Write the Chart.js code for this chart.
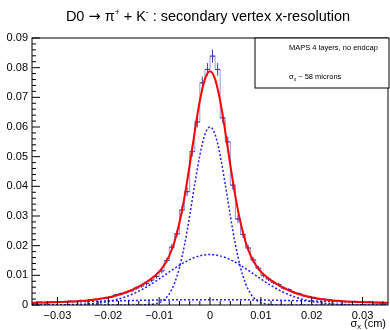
<!DOCTYPE html>
<html><head><meta charset="utf-8">
<script src="https://cdn.jsdelivr.net/npm/chart.js@4.4.1/dist/chart.umd.min.js"></script>
<style>html,body{margin:0;padding:0;background:#fff;}canvas{display:block;}</style>
</head><body>
<canvas id="c" width="390" height="330"></canvas>
<script>
// ---------- data ----------
const X_MIN = -0.035, X_MAX = 0.035, BIN_WIDTH = 0.001, CURVE_STEP = 0.001;
const Y_MIN = 0, Y_MAX = 0.09;
const xTicks = [-0.03, -0.02, -0.01, 0, 0.01, 0.02, 0.03];
const xTickLabels = ['\u22120.03', '\u22120.02', '\u22120.01', '0', '0.01', '0.02', '0.03'];
const yTicks = [0, 0.01, 0.02, 0.03, 0.04, 0.05, 0.06, 0.07, 0.08, 0.09];
const yTickLabels = ['0', '0.01', '0.02', '0.03', '0.04', '0.05', '0.06', '0.07', '0.08', '0.09'];

const histValues = [
  0.0007, 0.0009, 0.0008, 0.0010, 0.0009, 0.0011, 0.0010, 0.0013, 0.0012, 0.0015,
  0.0014, 0.0017, 0.0019, 0.0022, 0.0025, 0.0027, 0.0034, 0.0038, 0.0042, 0.0048,
  0.0057, 0.0064, 0.0072, 0.0084, 0.0096, 0.0115, 0.0150, 0.0195, 0.0240, 0.0320,
  0.0382, 0.0517, 0.0617, 0.0749, 0.0794,
  0.0839, 0.0794, 0.0631, 0.0550, 0.0404, 0.0290, 0.0238, 0.0192, 0.0152, 0.0124,
  0.0100, 0.0088, 0.0076, 0.0069, 0.0057, 0.0052, 0.0042, 0.0038, 0.0031, 0.0028,
  0.0025, 0.0020, 0.0019, 0.0016, 0.0015, 0.0014, 0.0012, 0.0011, 0.0010, 0.0011,
  0.0009, 0.0010, 0.0008, 0.0007, 0.0008
];
const histErrors = [
  0.00020, 0.00023, 0.00022, 0.00024, 0.00023, 0.00025, 0.00024, 0.00027, 0.00026, 0.00029,
  0.00028, 0.00031, 0.00033, 0.00036, 0.00038, 0.00040, 0.00044, 0.00047, 0.00049, 0.00053,
  0.00058, 0.00061, 0.00065, 0.00070, 0.00075, 0.00082, 0.00093, 0.00106, 0.00118, 0.00136,
  0.00149, 0.00173, 0.00189, 0.00208, 0.00215,
  0.00221, 0.00215, 0.00191, 0.00179, 0.00153, 0.00130, 0.00117, 0.00106, 0.00094, 0.00085,
  0.00076, 0.00071, 0.00066, 0.00063, 0.00058, 0.00055, 0.00049, 0.00047, 0.00042, 0.00040,
  0.00038, 0.00034, 0.00033, 0.00030, 0.00029, 0.00028, 0.00026, 0.00025, 0.00024, 0.00025,
  0.00023, 0.00024, 0.00022, 0.00020, 0.00022
];

const fitTotal = [
  0.00074, 0.00079, 0.00083, 0.00088, 0.00093, 0.00098, 0.00105, 0.00112, 0.0012, 0.0013,
  0.00141, 0.00157, 0.00175, 0.00197, 0.00223, 0.00256, 0.00296, 0.00342, 0.00398, 0.00463,
  0.00538, 0.00623, 0.0072, 0.00831, 0.00961, 0.01124, 0.01347, 0.01663, 0.02125, 0.0278,
  0.03653, 0.04711, 0.05847, 0.06882, 0.07615,
  0.0788,
  0.07615, 0.06882, 0.05847, 0.04711, 0.03653, 0.0278, 0.02125, 0.01663, 0.01347, 0.01124,
  0.00961, 0.00831, 0.0072, 0.00623, 0.00538, 0.00463, 0.00398, 0.00342, 0.00296, 0.00256,
  0.00223, 0.00197, 0.00175, 0.00157, 0.00141, 0.0013, 0.0012, 0.00112, 0.00105, 0.00098,
  0.00093, 0.00088, 0.00083, 0.00079, 0.00074
];
const gausNarrow = [
  0, 0, 0, 0, 0, 0, 0, 0, 0, 0, 0, 0, 0, 0, 0, 0, 0, 0, 0, 0, 0,
  0.00001, 0.00004, 0.00012, 0.00032, 0.00079, 0.00181, 0.00377, 0.00721, 0.01265, 0.02035,
  0.03004, 0.04066, 0.05047, 0.05746,
  0.06,
  0.05746, 0.05047, 0.04066, 0.03004, 0.02035, 0.01265, 0.00721, 0.00377, 0.00181, 0.00079,
  0.00032, 0.00012, 0.00004, 0.00001,
  0, 0, 0, 0, 0, 0, 0, 0, 0, 0, 0, 0, 0, 0, 0, 0, 0, 0, 0, 0, 0
];
const gausMedium = [
  0, 0.00001, 0.00001, 0.00002, 0.00003, 0.00004, 0.00007, 0.0001, 0.00014, 0.0002,
  0.00027, 0.00038, 0.00052, 0.0007, 0.00092, 0.00121, 0.00157, 0.002, 0.00252, 0.00313,
  0.00385, 0.00466, 0.00557, 0.00657, 0.00764, 0.00878, 0.00996, 0.01114, 0.0123, 0.0134,
  0.01441, 0.01529, 0.01602, 0.01656, 0.01689,
  0.017,
  0.01689, 0.01656, 0.01602, 0.01529, 0.01441, 0.0134, 0.0123, 0.01114, 0.00996, 0.00878,
  0.00764, 0.00657, 0.00557, 0.00466, 0.00385, 0.00313, 0.00252, 0.002, 0.00157, 0.00121,
  0.00092, 0.0007, 0.00052, 0.00038, 0.00027, 0.0002, 0.00014, 0.0001, 0.00007, 0.00004,
  0.00003, 0.00002, 0.00001, 0.00001, 0
];
const gausWide = [
  0.00074, 0.00078, 0.00082, 0.00086, 0.0009, 0.00094, 0.00098, 0.00102, 0.00106, 0.0011,
  0.00114, 0.00119, 0.00123, 0.00127, 0.00131, 0.00135, 0.00139, 0.00142, 0.00146, 0.0015,
  0.00153, 0.00156, 0.00159, 0.00162, 0.00165, 0.00167, 0.0017, 0.00172, 0.00174, 0.00175,
  0.00177, 0.00178, 0.00179, 0.00179, 0.0018,
  0.0018,
  0.0018, 0.00179, 0.00179, 0.00178, 0.00177, 0.00175, 0.00174, 0.00172, 0.0017, 0.00167,
  0.00165, 0.00162, 0.00159, 0.00156, 0.00153, 0.0015, 0.00146, 0.00142, 0.00139, 0.00135,
  0.00131, 0.00127, 0.00123, 0.00119, 0.00114, 0.0011, 0.00106, 0.00102, 0.00098, 0.00094,
  0.0009, 0.00086, 0.00082, 0.00078, 0.00074
];

// ---------- build datasets ----------
const histPoints = histValues.map((v, i) => ({ x: X_MIN + i * BIN_WIDTH, y: v }));
histPoints.push({ x: X_MAX, y: histValues[histValues.length - 1] });
const toCurve = arr => arr.map((v, i) => ({ x: X_MIN + i * CURVE_STEP, y: v }));

const HIST_INDEX = 1;
const FONT = '"Liberation Sans", Arial, Helvetica, sans-serif';

function drawRich(ctx, parts, x, y, align) {
  let w = 0;
  parts.forEach(p => { ctx.font = p.size + 'px ' + (p.family || FONT); p.w = ctx.measureText(p.t).width; w += p.w; });
  let cx = align === 'center' ? x - w / 2 : (align === 'right' ? x - w : x);
  ctx.textAlign = 'left';
  ctx.textBaseline = 'alphabetic';
  parts.forEach(p => { ctx.font = p.size + 'px ' + (p.family || FONT); ctx.fillText(p.t, cx, y + (p.dy || 0)); cx += p.w; });
}

const rootPlugin = {
  id: 'rootStyle',
  afterDatasetDraw(chart, args) {
    if (args.index !== HIST_INDEX) return;
    const ctx = chart.ctx, xs = chart.scales.x, ys = chart.scales.y, a = chart.chartArea;
    ctx.save();
    ctx.beginPath(); ctx.rect(a.left, a.top, a.right - a.left, a.bottom - a.top); ctx.clip();
    ctx.strokeStyle = '#3a3ab4';
    ctx.lineWidth = 1;
    histValues.forEach((v, i) => {
      const x0 = xs.getPixelForValue(X_MIN + i * BIN_WIDTH);
      const x1 = xs.getPixelForValue(X_MIN + (i + 1) * BIN_WIDTH);
      const xc = xs.getPixelForValue(X_MIN + (i + 0.5) * BIN_WIDTH);
      const yv = ys.getPixelForValue(v);
      const ylo = ys.getPixelForValue(v - histErrors[i]);
      const yhi = ys.getPixelForValue(v + histErrors[i]);
      ctx.beginPath();
      ctx.moveTo(x0, yv); ctx.lineTo(x1, yv);
      ctx.moveTo(xc, ylo); ctx.lineTo(xc, yhi);
      ctx.stroke();
    });
    ctx.restore();
  },
  afterDraw(chart) {
    const ctx = chart.ctx, xs = chart.scales.x, ys = chart.scales.y, a = chart.chartArea;
    ctx.save();
    ctx.strokeStyle = '#000';
    ctx.lineWidth = 1;
    ctx.strokeRect(a.left, a.top, a.right - a.left, a.bottom - a.top);
    ctx.beginPath();
    for (let i = 0; i < yTicks.length; i++) {
      const y = ys.getPixelForValue(yTicks[i]);
      ctx.moveTo(a.left, y); ctx.lineTo(a.left + 8, y);
      if (i < yTicks.length - 1) {
        const step = (yTicks[i + 1] - yTicks[i]) / 5;
        for (let k = 1; k < 5; k++) {
          const ym = ys.getPixelForValue(yTicks[i] + k * step);
          ctx.moveTo(a.left, ym); ctx.lineTo(a.left + 4, ym);
        }
      }
    }
    const xstep = (xTicks[1] - xTicks[0]) / 5;
    for (let v = xTicks[0] - xstep; v > X_MIN; v -= xstep) {
      const x = xs.getPixelForValue(v);
      ctx.moveTo(x, a.bottom); ctx.lineTo(x, a.bottom - 4);
    }
    for (let i = 0; i < xTicks.length; i++) {
      const x = xs.getPixelForValue(xTicks[i]);
      ctx.moveTo(x, a.bottom); ctx.lineTo(x, a.bottom - 8);
      for (let k = 1; k < 5; k++) {
        const v = xTicks[i] + k * xstep;
        if (v >= X_MAX) break;
        const xm = xs.getPixelForValue(v);
        ctx.moveTo(xm, a.bottom); ctx.lineTo(xm, a.bottom - 4);
      }
    }
    ctx.stroke();
    ctx.fillStyle = '#000';
    ctx.font = '11px ' + FONT;
    ctx.textAlign = 'right';
    ctx.textBaseline = 'middle';
    yTicks.forEach((v, i) => ctx.fillText(yTickLabels[i], a.left - 4, ys.getPixelForValue(v)));
    ctx.textAlign = 'center';
    ctx.textBaseline = 'top';
    xTicks.forEach((v, i) => ctx.fillText(xTickLabels[i], xs.getPixelForValue(v), a.bottom + 5));
    drawRich(ctx, [{ t: '\u03C3', size: 11 }, { t: 'x', size: 7.5, dy: 2 }, { t: ' (cm)', size: 11 }], 386, 327, 'right');
    drawRich(ctx, [
      { t: 'D0 ', size: 14.5 }, { t: '\u2192', size: 14.5, family: '"DejaVu Sans", sans-serif' }, { t: ' \u03C0', size: 14.5 },
      { t: '+', size: 8.5, dy: -6 },
      { t: ' + K', size: 14.5 }, { t: '-', size: 8.5, dy: -6 },
      { t: ' : secondary vertex x-resolution', size: 14.5 }
    ], 208, 21, 'center');
    ctx.fillStyle = '#fff';
    ctx.fillRect(255, 38, 134, 50);
    ctx.strokeStyle = '#000';
    ctx.lineWidth = 1;
    ctx.strokeRect(255, 38, 134, 50);
    ctx.fillStyle = '#000';
    drawRich(ctx, [{ t: 'MAPS 4 layers, no endcap', size: 7.5 }], 289, 50, 'left');
    drawRich(ctx, [{ t: '\u03C3', size: 7.5 }, { t: 'x', size: 5, dy: 1.5 }, { t: ' ~ 58 microns', size: 7.5 }], 289, 79, 'left');
    ctx.restore();
  }
};

const dotted = { borderColor: '#1f1ff0', borderWidth: 1.5, borderDash: [2, 2], pointRadius: 0, fill: false, cubicInterpolationMode: 'monotone' };

new Chart(document.getElementById('c'), {
  type: 'line',
  data: {
    datasets: [
      { label: 'fit', data: toCurve(fitTotal), borderColor: '#ff0000', borderWidth: 2, pointRadius: 0, fill: false, cubicInterpolationMode: 'monotone' },
      { label: 'hist', data: histPoints, borderColor: 'rgba(80,80,205,0.6)', borderWidth: 1, pointRadius: 0, fill: false, stepped: 'before' },
      Object.assign({ label: 'narrow', data: toCurve(gausNarrow) }, dotted),
      Object.assign({ label: 'medium', data: toCurve(gausMedium) }, dotted),
      Object.assign({ label: 'wide', data: toCurve(gausWide) }, dotted)
    ]
  },
  options: {
    responsive: false,
    animation: false,
    devicePixelRatio: 1,
    layout: { padding: { left: 32, top: 38, right: 2, bottom: 25 } },
    plugins: { legend: { display: false }, title: { display: false }, tooltip: { enabled: false } },
    scales: {
      x: { type: 'linear', min: X_MIN, max: X_MAX, display: false },
      y: { type: 'linear', min: Y_MIN, max: Y_MAX, display: false }
    }
  },
  plugins: [rootPlugin]
});
</script>
</body></html>
